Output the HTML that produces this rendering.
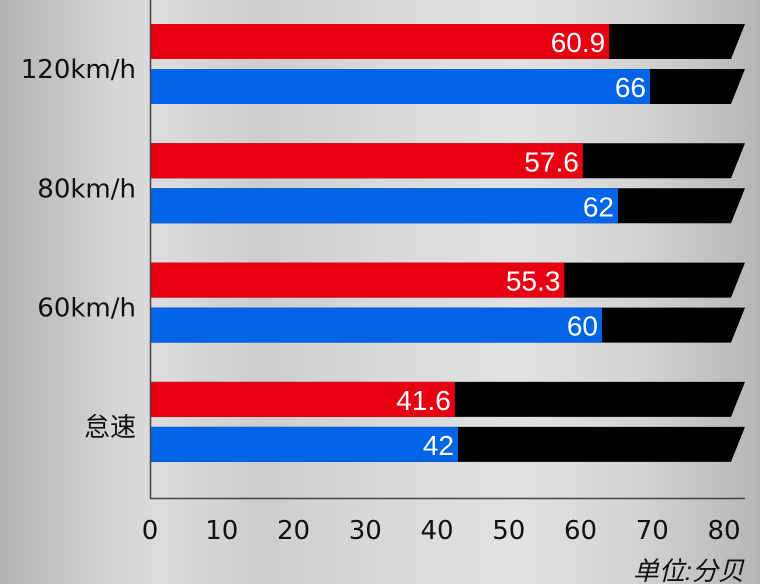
<!DOCTYPE html>
<html><head><meta charset="utf-8"><style>
body{margin:0;width:760px;height:584px;overflow:hidden;background:linear-gradient(90deg,#b2b2b2 0px,#d4d4d4 110px,#dcdcdc 160px,#cdcdcd 260px,#d9d9d9 380px,#e2e2e2 520px,#d3d3d3 640px,#b6b6b6 760px);font-family:"Liberation Sans","Noto Sans CJK SC",sans-serif}
svg{display:block}
</style></head><body>
<svg id="chart" width="760" height="584" xmlns="http://www.w3.org/2000/svg"></svg>
<script>
const categories=["120km/h","80km/h","60km/h","怠速"];
const redValues=[60.9,57.6,55.3,41.6];
const blueValues=[66,62,60,42];
const tickLabels=["0","10","20","30","40","50","60","70","80"];
const NS="http://www.w3.org/2000/svg";
const svg=document.getElementById("chart");
function axisX(v){return 150+v*7.175;}
function barX(v){return 122+v*8;}
function groupY(i){return 24+i*119.3;}
function mk(tag,attrs,parent){const e=document.createElementNS(NS,tag);for(const k in attrs)e.setAttribute(k,attrs[k]);(parent||svg).appendChild(e);return e;}
function drawBar(y,v,color,name){
  const g=mk("g",{});
  
  
  const bg=mk("polygon",{points:`150,${y} 745,${y} 731,${y+35} 150,${y+35}`,fill:"#000"},g);
  
  
  const x=barX(v);
  const r=mk("rect",{x:150,y:y,width:x-150,height:35,fill:color},g);
  
  
  const t=mk("text",{x:x-4,y:y+28,fill:"#fff","font-size":"28","text-anchor":"end"},g);
  t.textContent=String(v);
  
  
}
categories.forEach((c,i)=>{
  const y=groupY(i);
  drawBar(y,redValues[i],"#e60012","bar-red-"+i);
  drawBar(y+45,blueValues[i],"#0064e6","bar-blue-"+i);
  const l=mk("text",{x:136,y:y+54,fill:"#111","font-size":"26","text-anchor":"end","font-family":"DejaVu Sans, Noto Sans CJK SC, sans-serif"});
  l.textContent=c;
  
  
});
const ax=mk("path",{d:"M150.5,0 V498.5 H745",stroke:"#444","stroke-width":"1.5",fill:"none"});


tickLabels.forEach((t,i)=>{
  const e=mk("text",{x:axisX(Number(t)),y:539,fill:"#111","font-size":"26","text-anchor":"middle","font-family":"DejaVu Sans, sans-serif"});
  e.textContent=t;
  
  
});
const u=mk("text",{x:744,y:580,fill:"#111","font-size":"26","text-anchor":"end","font-style":"italic"});
u.textContent="单位:分贝";


</script>
</body></html>
